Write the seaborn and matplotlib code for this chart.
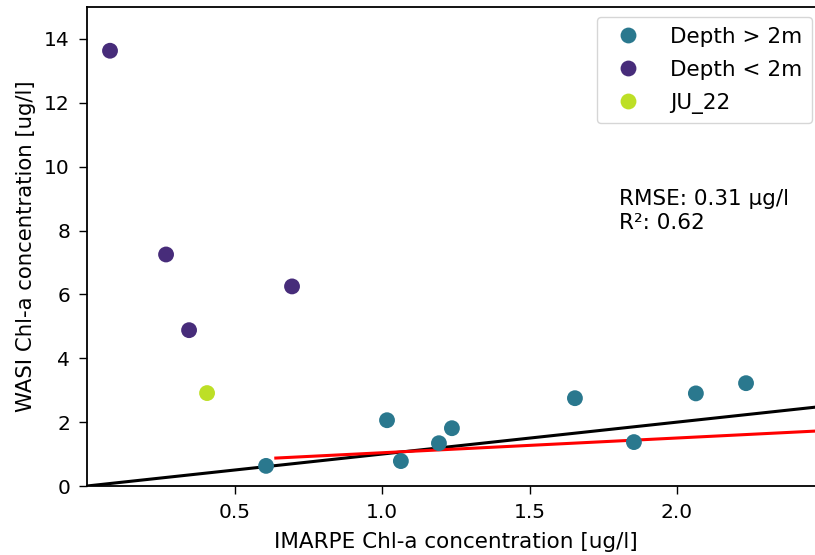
import numpy as np
import pandas as pd
import matplotlib
matplotlib.use("Agg")
import matplotlib.pyplot as plt
import seaborn as sns

# Data
deep_x = [0.607, 1.017, 1.064, 1.193, 1.237, 1.654, 1.854, 2.064, 2.234]
deep_y = [0.63, 2.06, 0.78, 1.34, 1.81, 2.75, 1.375, 2.90, 3.22]
shallow_x = [0.078, 0.268, 0.346, 0.695]
shallow_y = [13.63, 7.25, 4.88, 6.25]
ju_x = [0.407]
ju_y = [2.91]

groups = ["Depth > 2m", "Depth < 2m", "JU_22"]
colors = ["#2a788e", "#472c7a", "#bddf26"]

# regression line (red) parameters and x range
reg_slope = 0.462
reg_intercept = 0.579
reg_x = [0.64, 2.5]
one_to_one_x = [0.0, 2.5]

rmse_text = "RMSE: 0.31 µg/l\nR²: 0.62"

df = pd.DataFrame({
    "x": deep_x + shallow_x + ju_x,
    "y": deep_y + shallow_y + ju_y,
    "group": [groups[0]] * len(deep_x) + [groups[1]] * len(shallow_x) + [groups[2]] * len(ju_x),
})

plt.rcParams['font.family'] = ['DejaVu Sans']
plt.rcParams['axes.linewidth'] = 1.3
plt.rcParams['xtick.major.size'] = 5.7
plt.rcParams['ytick.major.size'] = 5.7
plt.rcParams['xtick.major.width'] = 1.0
plt.rcParams['ytick.major.width'] = 1.0
plt.rcParams['xtick.major.pad'] = 6.5
plt.rcParams['ytick.major.pad'] = 6.5

W, H = 815, 555
fig = plt.figure(figsize=(W / 100, H / 100), dpi=100)
ax = fig.add_axes([87 / W, (H - 486) / H, (824.5 - 87) / W, (486 - 7) / H])

xs = np.array(one_to_one_x)
ax.plot(xs, xs, color="black", lw=2.2, zorder=1)
rx = np.array(reg_x)
ax.plot(rx, reg_slope * rx + reg_intercept, color="red", lw=2.2, zorder=1)

sns.scatterplot(data=df, x="x", y="y", hue="group", hue_order=groups,
                palette=dict(zip(groups, colors)), s=130, linewidth=0,
                ax=ax, zorder=3)

ax.set_xlim(0, 2.5)
ax.set_ylim(0, 15)
ax.set_xticks([0.5, 1.0, 1.5, 2.0])
ax.set_yticks([0, 2, 4, 6, 8, 10, 12, 14])
ax.tick_params(labelsize=14.5)
ax.set_xlabel("IMARPE Chl-a concentration [ug/l]", fontsize=15.5, labelpad=7.5)
ax.set_ylabel("WASI Chl-a concentration [ug/l]", fontsize=15.3, labelpad=6)

ax.text(1.805, 8.62, rmse_text, fontsize=15.5, va="center", ha="left", linespacing=1.25)

leg = ax.legend(loc="upper right", bbox_to_anchor=(812 / W, 1 - 17 / H),
                bbox_transform=fig.transFigure, borderaxespad=0, fontsize=15.5,
                handletextpad=0.95, borderpad=0.45, labelspacing=0.6,
                markerscale=1.0, frameon=True)

fig.savefig("out.png", dpi=100)
